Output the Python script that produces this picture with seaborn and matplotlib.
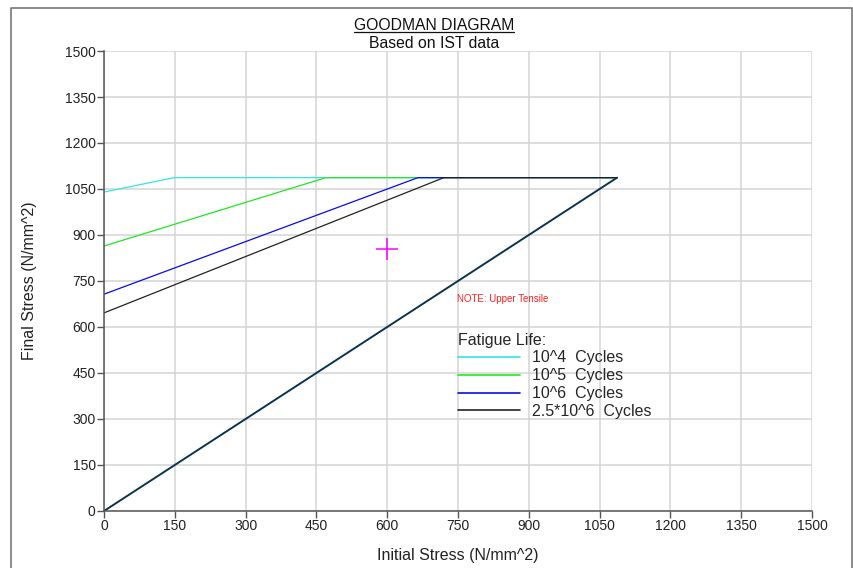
import matplotlib as mpl
mpl.use('Agg')

import matplotlib.pyplot as plt
from matplotlib.lines import Line2D
import pandas as pd
import seaborn as sns

# fatigue life curves: intercept at zero initial stress, knee where they meet UTS
series = ['10^4  Cycles', '10^5  Cycles', '10^6  Cycles', '2.5*10^6  Cycles']
intercepts = [1040, 864, 707, 646]
knees = [148, 470, 665, 720]
uts = 1087
colors = ['#33e6e6', '#22e622', '#0a0aee', '#222222']

point_x, point_y = 600, 855
ticks = list(range(0, 1501, 150))

rows = []
for name, a, k in zip(series, intercepts, knees):
    for x, y in [(0, a), (k, uts), (uts, uts)]:
        rows.append({'series': name, 'x': x, 'y': y})
dset = pd.DataFrame(rows)
diag = pd.DataFrame({'x': [0, uts], 'y': [0, uts]})

sns.set_style('white')
plt.rcParams['font.family'] = ['Liberation Sans', 'DejaVu Sans']

fig = plt.figure(figsize=(8.54, 5.68), dpi=100)
ax = fig.add_axes([0.1218, 0.1004, 0.829, 0.8098])

sns.lineplot(data=dset, x='x', y='y', hue='series', palette=colors,
             sort=False, estimator=None, linewidth=0.9, ax=ax, legend=False)
sns.lineplot(data=diag, x='x', y='y', color='#0b3350', linewidth=1.4,
             sort=False, estimator=None, ax=ax)
ax.plot([point_x], [point_y], marker='+', color='#ff00ff', markersize=16,
        markeredgewidth=1.1, linestyle='none')

ax.set_xlim(0, 1500)
ax.set_ylim(0, 1500)
ax.set_xticks(ticks)
ax.set_yticks(ticks)
ax.grid(True, color='#d4d4d4', linewidth=1.1)
ax.set_axisbelow(True)
sns.despine(ax=ax)
for side in ['left', 'bottom']:
    ax.spines[side].set_color('#555555')
    ax.spines[side].set_linewidth(1.1)
ax.tick_params(axis='both', direction='out', length=5, width=1, color='#555555',
               labelsize=10, labelcolor='#222222', pad=1, left=True, bottom=True)

ax.set_xlabel('Initial Stress (N/mm^2)', fontsize=11.5, color='#222222')
ax.set_ylabel('Final Stress (N/mm^2)', fontsize=11.5, color='#222222')
ax.xaxis.set_label_coords(0.5, -0.08)
ax.yaxis.set_label_coords(-0.094, 0.5)

ax.text(748, 691, 'NOTE: Upper Tensile', color='#ff2020', fontsize=7,
        va='center', ha='left')

handles = [Line2D([0], [0], color=c, linewidth=1.2) for c in colors]
leg = ax.legend(handles, series, title='Fatigue Life:', loc='upper left',
                bbox_to_anchor=(0.4995, 0.388), frameon=False, fontsize=11.5,
                title_fontsize=11.5, handlelength=3.9, handletextpad=0.78,
                labelspacing=0.18, borderpad=0, borderaxespad=0)
leg._legend_box.align = 'left'

title = fig.text(0.508, 0.955, 'GOODMAN DIAGRAM', ha='center', va='center',
                 fontsize=11.3, color='#111111')
fig.text(0.508, 0.924, 'Based on IST data', ha='center', va='center',
         fontsize=11.3, color='#111111')

# underline the title
fig.canvas.draw()
bb = title.get_window_extent().transformed(fig.transFigure.inverted())
fig.add_artist(Line2D([bb.x0, bb.x1], [bb.y0 + 0.001, bb.y0 + 0.001],
                      color='#111111', linewidth=0.9, transform=fig.transFigure))

# outer frame
fig.add_artist(Line2D([0.013, 0.013, 0.9975, 0.9975], [0.0, 0.986, 0.986, 0.0],
                      color='#777777', linewidth=1.2, transform=fig.transFigure))

fig.savefig('out.png', dpi=100)
plt.close(fig)
